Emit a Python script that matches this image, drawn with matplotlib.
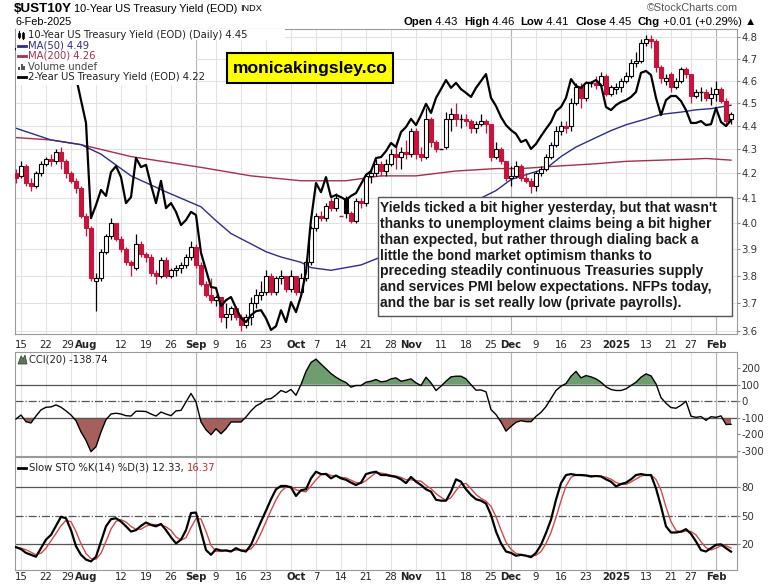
import matplotlib
matplotlib.use("Agg")
import matplotlib.pyplot as plt
import numpy as np
import pandas as pd
from matplotlib.lines import Line2D
from matplotlib.patches import Rectangle, Polygon
from matplotlib.ticker import NullLocator, NullFormatter
from matplotlib.transforms import blended_transform_factory, ScaledTranslation

plt.rcParams["axes.unicode_minus"] = False

W, H = 769, 584

# trading days shown (bond market holidays left out)
holidays = ["2024-09-02", "2024-11-28", "2024-12-25", "2025-01-01", "2025-01-09", "2025-01-20"]
days = pd.bdate_range("2024-07-12", "2025-02-06", freq="C", holidays=holidays)

# 10-year yield, daily candles
opens = [4.20, 4.19, 4.23, 4.16, 4.15, 4.20, 4.24, 4.26, 4.25, 4.29, 4.25, 4.20, 4.17, 4.14,
         4.03, 3.98, 3.78, 3.79, 3.89, 3.95, 4.00, 3.94, 3.90, 3.85, 3.83, 3.92, 3.88, 3.87,
         3.81, 3.80, 3.86, 3.80, 3.82, 3.83, 3.84, 3.87, 3.91, 3.84, 3.77, 3.73, 3.71, 3.72,
         3.65, 3.66, 3.68, 3.65, 3.62, 3.65, 3.70, 3.73, 3.74, 3.80, 3.74, 3.79, 3.80, 3.75,
         3.80, 3.74, 3.79, 3.85, 3.98, 4.03, 4.02, 4.09, 4.06, 4.03, 4.10, 4.04, 4.01, 4.09,
         4.08, 4.19, 4.20, 4.24, 4.21, 4.24, 4.28, 4.27, 4.29, 4.28, 4.38, 4.28, 4.27, 4.43,
         4.33, 4.30, 4.31, 4.43, 4.45, 4.43, 4.43, 4.42, 4.39, 4.41, 4.42, 4.41, 4.27, 4.30,
         4.25, 4.18, 4.19, 4.23, 4.18, 4.17, 4.15, 4.20, 4.22, 4.27, 4.32, 4.38, 4.40, 4.40,
         4.50, 4.57, 4.52, 4.59, 4.59, 4.58, 4.62, 4.54, 4.56, 4.57, 4.60, 4.62, 4.68, 4.69,
         4.77, 4.79, 4.78, 4.66, 4.60, 4.63, 4.57, 4.60, 4.65, 4.63, 4.53, 4.55, 4.55, 4.52,
         4.54, 4.56, 4.51, 4.43]
highs = [4.22, 4.25, 4.24, 4.18, 4.21, 4.25, 4.27, 4.28, 4.30, 4.31, 4.26, 4.21, 4.18, 4.15,
         4.04, 3.99, 3.81, 3.90, 3.96, 4.02, 4.00, 3.95, 3.91, 3.86, 3.96, 3.93, 3.89, 3.88,
         3.82, 3.87, 3.87, 3.83, 3.84, 3.85, 3.88, 3.93, 3.92, 3.85, 3.78, 3.79, 3.73, 3.72,
         3.70, 3.69, 3.69, 3.66, 3.66, 3.72, 3.75, 3.78, 3.82, 3.81, 3.80, 3.82, 3.80, 3.82,
         3.80, 3.81, 3.86, 3.99, 4.04, 4.05, 4.08, 4.10, 4.12, 4.03, 4.11, 4.05, 4.10, 4.10,
         4.20, 4.22, 4.26, 4.25, 4.26, 4.30, 4.33, 4.31, 4.34, 4.39, 4.39, 4.31, 4.48, 4.44,
         4.34, 4.30, 4.46, 4.48, 4.50, 4.45, 4.45, 4.43, 4.42, 4.45, 4.43, 4.41, 4.33, 4.31,
         4.25, 4.23, 4.25, 4.24, 4.20, 4.18, 4.21, 4.23, 4.28, 4.33, 4.40, 4.42, 4.42, 4.52,
         4.59, 4.59, 4.60, 4.60, 4.62, 4.64, 4.63, 4.58, 4.59, 4.61, 4.64, 4.70, 4.73, 4.79,
         4.81, 4.81, 4.79, 4.67, 4.63, 4.64, 4.61, 4.66, 4.66, 4.63, 4.56, 4.57, 4.56, 4.57,
         4.60, 4.57, 4.52, 4.46]
lows = [4.16, 4.18, 4.15, 4.13, 4.14, 4.19, 4.23, 4.23, 4.24, 4.22, 4.18, 4.16, 4.12, 4.02,
        3.95, 3.78, 3.67, 3.78, 3.88, 3.94, 3.93, 3.89, 3.84, 3.80, 3.82, 3.87, 3.85, 3.80,
        3.77, 3.79, 3.79, 3.79, 3.80, 3.81, 3.83, 3.86, 3.83, 3.76, 3.72, 3.70, 3.69, 3.63,
        3.61, 3.64, 3.64, 3.60, 3.61, 3.62, 3.68, 3.71, 3.73, 3.73, 3.73, 3.77, 3.74, 3.74,
        3.73, 3.73, 3.78, 3.84, 3.97, 4.01, 4.01, 4.05, 4.05, 4.03, 4.02, 4.00, 4.00, 4.06,
        4.07, 4.16, 4.19, 4.19, 4.19, 4.23, 4.22, 4.22, 4.26, 4.27, 4.26, 4.25, 4.26, 4.31,
        4.29, 4.30, 4.30, 4.38, 4.40, 4.39, 4.40, 4.37, 4.37, 4.40, 4.37, 4.25, 4.26, 4.24,
        4.17, 4.15, 4.18, 4.17, 4.16, 4.12, 4.13, 4.19, 4.21, 4.26, 4.31, 4.36, 4.37, 4.38,
        4.49, 4.48, 4.51, 4.57, 4.56, 4.57, 4.53, 4.53, 4.54, 4.55, 4.59, 4.61, 4.66, 4.68,
        4.76, 4.75, 4.64, 4.59, 4.58, 4.55, 4.56, 4.59, 4.61, 4.50, 4.52, 4.51, 4.51, 4.49,
        4.51, 4.50, 4.40, 4.41]
closes = [4.18, 4.23, 4.16, 4.15, 4.20, 4.24, 4.26, 4.25, 4.29, 4.25, 4.20, 4.17, 4.14, 4.03,
          3.98, 3.79, 3.79, 3.89, 3.95, 4.00, 3.94, 3.90, 3.85, 3.84, 3.92, 3.88, 3.87, 3.81,
          3.80, 3.86, 3.80, 3.82, 3.83, 3.84, 3.87, 3.91, 3.84, 3.77, 3.73, 3.71, 3.72, 3.65,
          3.66, 3.68, 3.65, 3.62, 3.65, 3.70, 3.73, 3.74, 3.80, 3.74, 3.79, 3.80, 3.75, 3.80,
          3.74, 3.79, 3.85, 3.98, 4.03, 4.02, 4.07, 4.06, 4.10, 4.03, 4.04, 4.01, 4.09, 4.08,
          4.19, 4.20, 4.24, 4.21, 4.24, 4.28, 4.27, 4.29, 4.28, 4.38, 4.28, 4.27, 4.43, 4.33,
          4.30, 4.30, 4.43, 4.45, 4.43, 4.43, 4.42, 4.39, 4.41, 4.42, 4.41, 4.27, 4.30, 4.25,
          4.18, 4.19, 4.23, 4.18, 4.17, 4.15, 4.20, 4.22, 4.27, 4.32, 4.38, 4.40, 4.39, 4.50,
          4.57, 4.52, 4.59, 4.59, 4.58, 4.62, 4.54, 4.57, 4.57, 4.60, 4.62, 4.68, 4.69, 4.77,
          4.79, 4.78, 4.66, 4.61, 4.61, 4.57, 4.60, 4.65, 4.63, 4.53, 4.55, 4.55, 4.52, 4.54,
          4.56, 4.51, 4.42, 4.45]
prev_close = 4.20

# 2-year yield overlay (own scale)
two_year = [4.45, 4.43, 4.42, 4.43, 4.46, 4.49, 4.50, 4.47, 4.44, 4.42, 4.39, 4.37, 4.36,
            4.287, 4.214, 3.910, 3.952, 4.000, 3.981, 4.057, 4.076, 4.041, 3.958, 3.977,
            4.102, 4.073, 4.080, 4.016, 3.958, 4.029, 3.942, 3.958, 3.930, 3.888, 3.904,
            3.930, 3.920, 3.799, 3.744, 3.690, 3.687, 3.629, 3.648, 3.658, 3.623, 3.591,
            3.578, 3.600, 3.613, 3.616, 3.590, 3.553, 3.565, 3.616, 3.578, 3.642, 3.610,
            3.661, 3.738, 3.904, 4.022, 3.993, 4.041, 3.977, 3.984, 3.977, 3.968, 3.981,
            3.990, 4.019, 4.048, 4.060, 4.102, 4.105, 4.124, 4.150, 4.137, 4.185, 4.201,
            4.227, 4.207, 4.239, 4.275, 4.246, 4.294, 4.322, 4.351, 4.326, 4.342, 4.322,
            4.310, 4.297, 4.326, 4.348, 4.370, 4.294, 4.268, 4.233, 4.207, 4.191, 4.179,
            4.153, 4.160, 4.131, 4.147, 4.172, 4.195, 4.217, 4.252, 4.265, 4.294, 4.354,
            4.332, 4.326, 4.342, 4.342, 4.351, 4.335, 4.265, 4.255, 4.271, 4.281, 4.287,
            4.297, 4.313, 4.374, 4.380, 4.367, 4.294, 4.239, 4.287, 4.300, 4.300, 4.284,
            4.255, 4.214, 4.214, 4.220, 4.207, 4.210, 4.262, 4.217, 4.204, 4.223]

# moving averages
ma50_dates = ["2024-07-12", "2024-07-23", "2024-07-31", "2024-08-06", "2024-08-14", "2024-08-23",
              "2024-09-04", "2024-09-09", "2024-09-12", "2024-09-18", "2024-09-23", "2024-09-26",
              "2024-10-02", "2024-10-04", "2024-10-10", "2024-10-15", "2024-10-18", "2024-10-24",
              "2024-10-30", "2024-11-05", "2024-11-11", "2024-11-18", "2024-11-21", "2024-11-26",
              "2024-12-02", "2024-12-05", "2024-12-11", "2024-12-16", "2024-12-19", "2024-12-26",
              "2024-12-31", "2025-01-06", "2025-01-13", "2025-01-16", "2025-01-23", "2025-01-28",
              "2025-01-31", "2025-02-06"]
ma50_vals = [4.39, 4.34, 4.32, 4.28, 4.19, 4.125, 4.065, 4.01, 3.96, 3.92, 3.89, 3.87,
             3.85, 3.83, 3.82, 3.83, 3.84, 3.87, 3.91, 3.96, 4.01, 4.07, 4.10, 4.13,
             4.175, 4.195, 4.22, 4.27, 4.31, 4.35, 4.38, 4.405, 4.43, 4.45, 4.46, 4.47,
             4.475, 4.49]
ma200_dates = ["2024-07-12", "2024-07-23", "2024-07-31", "2024-08-14", "2024-09-04", "2024-09-18",
               "2024-10-02", "2024-10-15", "2024-10-24", "2024-11-04", "2024-11-14", "2024-11-26",
               "2024-12-04", "2024-12-13", "2024-12-26", "2025-01-06", "2025-01-16", "2025-01-28",
               "2025-01-30", "2025-02-06"]
ma200_vals = [4.35, 4.34, 4.32, 4.27, 4.225, 4.19, 4.17, 4.17, 4.19, 4.19, 4.21, 4.22,
              4.22, 4.23, 4.24, 4.25, 4.255, 4.26, 4.262, 4.255]

# CCI(20), daily
cci = [-107, -83, -123, -131, -89, -52, -36, -34, -22, -36, -58, -83, -117, -185, -236, -304,
       -274, -185, -111, -77, -72, -77, -87, -89, -60, -60, -62, -77, -89, -65, -77, -87, -58,
       -55, -4, 47, -4, -125, -172, -202, -166, -196, -166, -125, -125, -125, -95, -58, -28,
       -12, 12, 16, 38, 65, 53, 71, 36, 101, 180, 234, 254, 224, 196, 167, 145, 127, 113, 85,
       95, 95, 115, 121, 131, 117, 121, 135, 141, 121, 127, 135, 111, 95, 145, 111, 65, 91,
       121, 147, 151, 151, 135, 100, 67, 68, 57, -50, -80, -125, -180, -152, -127, -117,
       -123, -123, -91, -67, -32, 16, 65, 91, 107, 151, 180, 141, 155, 147, 135, 115, 87, 71,
       65, 65, 75, 95, 115, 145, 165, 153, 105, 22, -12, -38, -42, -24, 0, -90, -97, -92,
       -115, -93, -97, -88, -140, -139]

# Slow stochastic %K(14)
sto_k = [17, 15, 11, 9, 7, 16, 25, 30, 39.5, 49, 47.5, 35, 18, 9, 4, 2, 7, 23, 39, 46.5, 47.5,
         44, 39, 33.5, 35, 39.5, 43, 40.5, 39, 41.5, 35, 27.5, 21, 25, 35, 53, 53.5, 33.5, 14,
         9, 15, 13.5, 13.5, 12.5, 16, 13.5, 12.5, 19.5, 32, 44, 55.5, 67.5, 78, 81.5, 81.5, 80,
         71, 77, 78, 89.5, 96.5, 94, 94, 89.5, 92.5, 89.5, 88, 85, 82.5, 85, 94, 95.5, 96.5,
         93, 93, 92, 91, 88.5, 84.5, 91, 86, 82.5, 78, 75.5, 67, 66, 66, 75.5, 88.5, 86, 78,
         72, 67.5, 66, 63, 51, 33.5, 21, 12.5, 11, 8, 9, 8, 6.5, 11, 19.5, 32, 46, 67, 84.5,
         93, 94, 93, 93, 92.5, 91.5, 92, 91.5, 88.5, 86, 81, 83.5, 85, 88.5, 93, 94, 93, 93,
         79, 60, 39, 32.5, 32.5, 33.5, 36, 31, 23, 14, 12.5, 16, 19.5, 20, 16, 12.33]

RED = "#c8143c"
NAVY = "#2e2e82"
MAROON = "#a3304c"
GRID = "#e2e2e2"
GRID_M = "#b4b4b4"


def fx(px):
    return px / W


def fy(py):
    return 1 - py / H


x = np.arange(len(days))
o = np.array(opens); h = np.array(highs); l = np.array(lows); c = np.array(closes)

fig = plt.figure(figsize=(W / 100, H / 100), dpi=100)
ax = fig.add_axes([fx(15), fy(334), (737 - 15) / W, (334 - 29) / H])
cax = fig.add_axes([fx(15), fy(456), (737 - 15) / W, (456 - 352) / H])
sax = fig.add_axes([fx(15), fy(570), (737 - 15) / W, (570 - 457) / H])

# 2-year overlay on its own (hidden) scale
ax2 = ax.twinx()
ax2.set_ylim(3.540, 4.514)
ax2.set_yticks([])
for s in ax2.spines.values():
    s.set_visible(False)

# week / month grid and labels
month_start = [i for i in range(len(days)) if i > 0 and days[i].month != days[i - 1].month]
week_start = [i for i in range(len(days))
              if i > 0 and days[i].isocalendar()[1] != days[i - 1].isocalendar()[1]]
tick_pos, tick_lab, tick_bold = [], [], []
for i in sorted(set(week_start) | set(month_start)):
    if i in month_start:
        tick_pos.append(i)
        tick_lab.append("2025" if days[i].month == 1 else days[i].strftime("%b"))
        tick_bold.append(True)
    elif all(abs(i - m) > 2 for m in month_start):
        tick_pos.append(i)
        tick_lab.append(str(days[i].day))
        tick_bold.append(False)


def date_labels(a, yoff):
    tr0 = blended_transform_factory(a.transData, a.transAxes)
    for p, lab, b in zip(tick_pos, tick_lab, tick_bold):
        dx = -3 if (not b and any(0 < m - p <= 3 for m in month_start)) else 0
        tr = tr0 + ScaledTranslation(dx / 100, -yoff / 100, fig.dpi_scale_trans)
        a.text(p, 0, lab, transform=tr, ha="center", va="center", fontsize=7.3,
               fontweight="bold" if b else "normal", color="#222222", clip_on=False)


for a in (ax, cax, sax):
    a.set_xlim(-0.2, 144.2)
    a.set_xticks([])
    for i in week_start:
        a.axvline(i, color=GRID_M if i in month_start else GRID, lw=0.8, zorder=0)
    for s in a.spines.values():
        s.set_color("#9a9a9a")
        s.set_linewidth(0.8)
    a.yaxis.tick_right()
    a.tick_params(axis="y", labelsize=7.3, length=2, color="#888888", labelcolor="#333333", pad=1)

# main price panel (log scale)
ax.set_yscale("log")
ax.set_ylim(3.589, 4.838)
yt = [3.6, 3.7, 3.8, 3.9, 4.0, 4.1, 4.2, 4.3, 4.4, 4.5, 4.6, 4.7, 4.8]
for v in yt:
    ax.axhline(v, color=GRID, lw=0.8, zorder=0)
ax.yaxis.set_minor_locator(NullLocator())
ax.yaxis.set_minor_formatter(NullFormatter())
ax.set_yticks(yt)
ax.set_yticklabels([f"{v:.1f}" for v in yt])

ax.plot(days.get_indexer(pd.to_datetime(ma200_dates)), ma200_vals, color=MAROON, lw=1.0, zorder=2)
ax.plot(days.get_indexer(pd.to_datetime(ma50_dates)), ma50_vals, color=NAVY, lw=1.0, zorder=2)

pc = np.concatenate([[prev_close], c[:-1]])
for i in x:
    col = RED if c[i] < pc[i] else "black"
    ax.vlines(i, l[i], h[i], color=col, lw=0.9, zorder=3)
    lo, hi = min(o[i], c[i]), max(o[i], c[i])
    if hi - lo < 0.004:
        ax.hlines(c[i], i - 0.35, i + 0.35, color=col, lw=1.0, zorder=4)
    else:
        face = col if c[i] < o[i] else "white"
        ax.bar(i, hi - lo, bottom=lo, width=0.66, facecolor=face, edgecolor=col, lw=0.8, zorder=4)

ax.yaxis.tick_right()
date_labels(ax, 11)

ax2.plot(x, two_year, color="black", lw=1.6, zorder=5)

# CCI panel
cci_a = np.array(cci, dtype=float)
cax.set_ylim(-330, 297)
cax.fill_between(x, cci_a, 100, where=cci_a > 100, interpolate=True, color="#6f9d6f", lw=0, zorder=1)
cax.fill_between(x, cci_a, -100, where=cci_a < -100, interpolate=True, color="#a5605b", lw=0, zorder=1)
cax.axhline(100, color="#555555", lw=0.9, zorder=2)
cax.axhline(-100, color="#555555", lw=0.9, zorder=2)
cax.axhline(0, color="#555555", lw=0.9, ls="-.", zorder=2)
cax.plot(x, cci_a, color="black", lw=1.0, zorder=3)
cax.set_yticks([200, 100, 0, -100, -200, -300])

# slow stochastics panel
k = pd.Series(sto_k, dtype=float)
d = k.rolling(3, min_periods=1).mean()
sax.set_ylim(-7, 112)
sax.axhline(80, color="#555555", lw=0.9, zorder=2)
sax.axhline(20, color="#555555", lw=0.9, zorder=2)
sax.axhline(50, color="#555555", lw=0.9, ls="-.", zorder=2)
sax.plot(x, d, color="#d04a4a", lw=1.0, zorder=3)
sax.plot(x, k, color="black", lw=1.6, zorder=4)
sax.set_yticks([80, 50, 20])
date_labels(sax, 7)

# header texts
r = fig.canvas.get_renderer()
t = fig.text(fx(14), fy(8.5), "$UST10Y", fontsize=9.6, fontweight="bold", family="Liberation Sans",
             va="center")
xe = t.get_window_extent(renderer=r).x1 + 2
t = fig.text(fx(xe), fy(8.5), "10-Year US Treasury Yield (EOD)", fontsize=7.9,
             family="Liberation Sans", va="center")
xe = t.get_window_extent(renderer=r).x1 + 3
fig.text(fx(xe), fy(8.5), "INDX", fontsize=6.6, family="Liberation Sans", va="center")
fig.text(fx(15), fy(22), "6-Feb-2025", fontsize=7.8, family="Liberation Sans", va="center")
fig.text(fx(738), fy(8), "\u00a9StockCharts.com", fontsize=7.8, family="Liberation Sans",
         va="center", ha="right", color="#555555")

pieces = [("Open", "bold"), (" 4.43  ", "normal"), ("High", "bold"), (" 4.46  ", "normal"),
          ("Low", "bold"), (" 4.41  ", "normal"), ("Close", "bold"), (" 4.45  ", "normal"),
          ("Chg", "bold"), (" +0.01 (+0.29%) \u25b2", "normal")]
xp = 403
for s, w in pieces:
    t = fig.text(fx(xp), fy(22), s, fontsize=8.2, fontweight=w, family="Liberation Sans",
                 va="center")
    xp = t.get_window_extent(renderer=r).x1

# legend block in the price panel
fig.add_artist(Rectangle((fx(15.5), fy(85)), fx(196) - fx(15.5), fy(29.5) - fy(85),
                         transform=fig.transFigure, facecolor="white", edgecolor="none"))
fig.add_artist(Rectangle((fx(15.5), fy(40)), fx(285) - fx(15.5), fy(29.5) - fy(40),
                         transform=fig.transFigure, facecolor="white", edgecolor="none"))


def fline(x0, y0, x1, y1, **kw):
    fig.add_artist(Line2D([fx(x0), fx(x1)], [fy(y0), fy(y1)], transform=fig.transFigure, **kw))


leg = [("10-Year US Treasury Yield (EOD) (Daily) 4.45", "#222222"),
       ("MA(50) 4.49", NAVY), ("MA(200) 4.26", MAROON),
       ("Volume undef", "#444444"), ("2-Year US Treasury Yield (EOD) 4.22", "#222222")]
rows = [34.5, 45.5, 56, 66.5, 77]
for (s, col), yy in zip(leg, rows):
    fig.text(fx(28), fy(yy), s, fontsize=7.2, color=col, va="center")
fline(18.5, 31, 18.5, 38, color="black", lw=0.8)
fig.add_artist(Rectangle((fx(17.5), fy(37)), fx(2), fy(32.5) - fy(37), transform=fig.transFigure,
                         facecolor="black", edgecolor="black", lw=0.5))
fline(22.5, 32, 22.5, 39, color="black", lw=0.8)
fig.add_artist(Rectangle((fx(21.5), fy(38)), fx(2), fy(33) - fy(38), transform=fig.transFigure,
                         facecolor="white", edgecolor="black", lw=0.6))
fline(18, 45.5, 26, 45.5, color=NAVY, lw=2)
fline(18, 56, 26, 56, color=MAROON, lw=2)
for k_, hh in enumerate([3, 6, 4]):
    fig.add_artist(Rectangle((fx(18 + 2.6 * k_), fy(70)), fx(2), fy(70 - hh) - fy(70),
                             transform=fig.transFigure, facecolor="#555555", edgecolor="none"))
fline(18, 77, 26, 77, color="black", lw=2)

# website label
fig.add_artist(Rectangle((fx(227), fy(83)), fx(393) - fx(227), fy(53) - fy(83),
                         transform=fig.transFigure, facecolor="#ffff00", edgecolor="black", lw=1.5))
fig.text(fx(310), fy(68.5), "monicakingsley.co", fontsize=12.6, fontweight="bold",
         family="Liberation Sans", ha="center", va="center")

# comment box
fig.add_artist(Rectangle((fx(378), fy(316)), fx(732) - fx(378), fy(197) - fy(316),
                         transform=fig.transFigure, facecolor="white", edgecolor="#555555", lw=1))
note = ["Yields ticked a bit higher yesterday, but that wasn't",
        "thanks to unemployment claims being a bit higher",
        "than expected, but rather through dialing back a",
        "little the bond market optimism thanks to",
        "preceding steadily continuous Treasuries supply",
        "and services PMI below expectations. NFPs today,",
        "and the bar is set really low (private payrolls)."]
for n, s in enumerate(note):
    fig.text(fx(380.5), fy(208 + 15.85 * n), s, fontsize=10, fontweight="bold",
             family="Liberation Sans", color="#1a1a1a", va="center")

# indicator legends
fig.add_artist(Polygon([[fx(18), fy(364)], [fx(21), fy(356)], [fx(23), fy(359)], [fx(25), fy(355)],
                        [fx(27), fy(364)]], closed=True, transform=fig.transFigure,
                       facecolor="#5a7a5a", edgecolor="#333333", lw=0.5))
fig.text(fx(29), fy(360), "CCI(20) -138.74", fontsize=7.2, color="#222222", va="center")
fline(18, 468, 26, 468, color="black", lw=2)
t = fig.text(fx(29), fy(468), "Slow STO %K(14) %D(3) 12.33, ", fontsize=7.2, color="#222222",
             va="center")
xe = t.get_window_extent(renderer=r).x1
fig.text(fx(xe), fy(468), "16.37", fontsize=7.2, color="#c03030", va="center")

fig.savefig("out.png", dpi=100)
